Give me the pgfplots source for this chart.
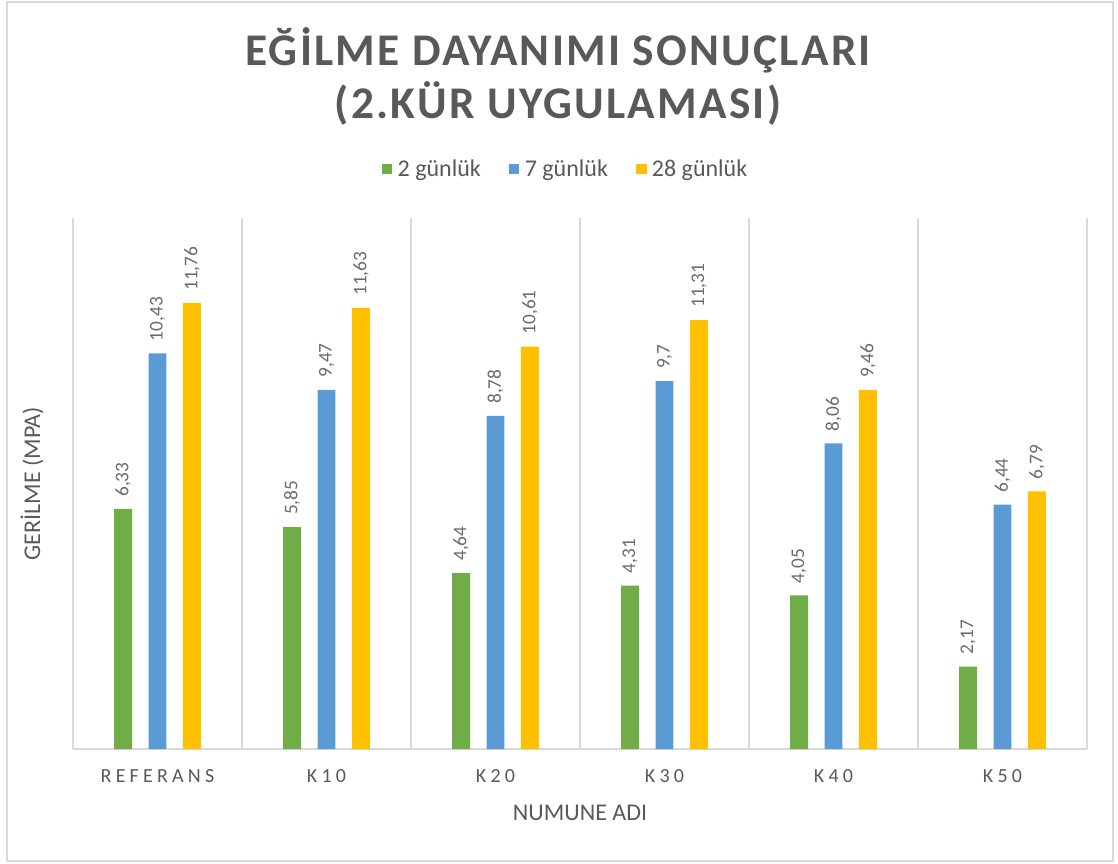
\documentclass[border=0pt]{standalone}
\usepackage{pgfplots}
\pgfplotsset{compat=1.18}
\usepackage{fontspec}
\setmainfont{Carlito}
\newfontfamily\titlefont[LetterSpace=5]{Carlito}
\newfontfamily\spacedfont[LetterSpace=21]{Carlito}
\definecolor{cgreen}{HTML}{70AD47}
\definecolor{cblue}{HTML}{5B9BD5}
\definecolor{cgold}{HTML}{FFC000}
\definecolor{ctext}{HTML}{595959}
\definecolor{clabel}{HTML}{6B6B6B}
\definecolor{cgrid}{HTML}{D9D9D9}
\pgfplotsset{sqlegend/.style={legend image code/.code={\fill[##1] (0pt,-4pt) rectangle (8pt,4pt); \path (0pt,0pt) -- (10pt,0pt);}}}
\begin{document}
\begin{tikzpicture}
\begin{scope}[x=0.75pt,y=-0.75pt]
\path[use as bounding box] (0,0) rectangle (1118,864);
\draw[cgrid, line width=1.5pt] (7,2) rectangle (1113,861);
\node[font=\titlefont\bfseries\fontsize{34}{38}\selectfont, text=ctext] at (558,50) {EĞİLME DAYANIMI SONUÇLARI};
\node[font=\titlefont\bfseries\fontsize{34}{38}\selectfont, text=ctext] at (558,103) {(2.KÜR UYGULAMASI)};
\end{scope}
\begin{axis}[
  at={(54.75pt,-561.75pt)}, anchor=south west,
  scale only axis, width=760.5pt, height=398.25pt,
  xmin=-0.5, xmax=5.5, ymin=0, ymax=14,
  clip=false,
  axis x line*=bottom, axis y line*=left,
  x axis line style={draw=cgrid, line width=1.1pt},
  y axis line style={draw=none},
  xtick={0,1,2,3,4,5},
  xticklabels={REFERANS,K10,K20,K30,K40,K50},
  major tick length=0pt, minor tick length=0pt,
  minor xtick={-0.5,0.5,1.5,2.5,3.5,4.5,5.5},
  xminorgrids, minor grid style={draw=cgrid, line width=1.1pt},
  ytick=\empty,
  xticklabel style={font=\spacedfont\fontsize{15}{18}\selectfont, text=ctext, yshift=-12pt},
  xlabel={NUMUNE ADI},
  xlabel style={at={(axis description cs:0.5,-0.1205)}, anchor=center, font=\fontsize{18}{21}\selectfont, text=ctext},
  ylabel={GERİLME (MPA)},
  ylabel style={at={(axis description cs:-0.0404,0.5)}, anchor=center, font=\fontsize{18}{21}\selectfont, text=ctext},
  ybar, bar width=0.1065,
  /pgf/number format/assume math mode=true,
  /pgf/number format/use comma,
  /pgf/number format/precision=2,
  nodes near coords,
  every node near coord/.append style={rotate=90, anchor=west, inner xsep=9pt, inner ysep=0pt, text=clabel, font=\fontsize{14.5}{16}\selectfont},
  legend columns=3,
  legend style={at={(0.486,1.092)}, anchor=center, draw=none, fill=none,
    font=\fontsize{18}{21}\selectfont, text=ctext,
    /tikz/every even column/.append style={column sep=19pt}},
]
\addplot[fill=cgreen, draw=none, bar shift=-0.204, sqlegend] coordinates {(0,6.33) (1,5.85) (2,4.64) (3,4.31) (4,4.05) (5,2.17)};
\addplot[fill=cblue, draw=none, bar shift=0, sqlegend] coordinates {(0,10.43) (1,9.47) (2,8.78) (3,9.7) (4,8.06) (5,6.44)};
\addplot[fill=cgold, draw=none, bar shift=0.204, sqlegend] coordinates {(0,11.76) (1,11.63) (2,10.61) (3,11.31) (4,9.46) (5,6.79)};
\legend{2 günlük, 7 günlük, 28 günlük}
\end{axis}
\end{tikzpicture}
\end{document}
